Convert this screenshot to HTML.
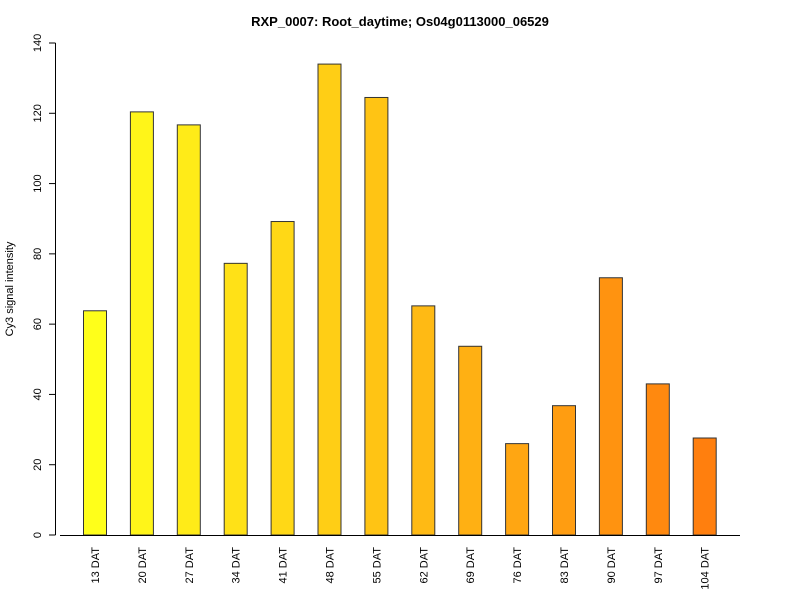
<!DOCTYPE html>
<html><head><meta charset="utf-8"><style>body{margin:0;background:#fff}svg{display:block;font-family:"Liberation Sans",Arial,sans-serif}</style></head>
<body>
<svg id="chart" width="800" height="600">
<text x="400" y="26" text-anchor="middle" font-weight="bold" font-size="13">RXP_0007: Root_daytime; Os04g0113000_06529</text>
<text transform="translate(13,289) rotate(-90)" text-anchor="middle" font-size="11">Cy3 signal intensity</text>
<g id="bars"></g><g id="axes"></g>
</svg>
<script>
const categories=["13 DAT","20 DAT","27 DAT","34 DAT","41 DAT","48 DAT","55 DAT","62 DAT","69 DAT","76 DAT","83 DAT","90 DAT","97 DAT","104 DAT"];
const values=[63.8,120.4,116.7,77.3,89.2,134,124.5,65.2,53.7,26,36.8,73.2,43,27.6];
const yTicks=[0,20,40,60,80,100,120,140];
const NS="http://www.w3.org/2000/svg";
const y0=535,y1=43,yMax=140;
const yScale=v=>y0-(v/yMax)*(y0-y1);
const xCenter=i=>95+i*46.9;
const bw=23;
const bars=document.getElementById('bars'),axes=document.getElementById('axes');
function mk(t,a,p){const e=document.createElementNS(NS,t);for(const k in a)e.setAttribute(k,a[k]);p.appendChild(e);return e;}
const n=categories.length;
values.forEach((v,i)=>{
 const g=Math.round(255-(255-127)*i/(n-1)), b=Math.round(26-(26-14)*i/(n-1));
 const r=mk('rect',{x:xCenter(i)-bw/2,y:yScale(v),width:bw,height:y0-yScale(v),fill:`rgb(255,${g},${b})`,stroke:'#333','stroke-width':1},bars);
 
 
 const t=mk('text',{transform:`translate(${xCenter(i)+4},547) rotate(-90)`,'text-anchor':'end','font-size':11},axes);
 t.textContent=categories[i];
 
 
});
const xa=mk('line',{x1:60,x2:740,y1:y0+0.5,y2:y0+0.5,stroke:'#000'},axes);


const ya=mk('line',{x1:55.5,x2:55.5,y1:yScale(yTicks[0]),y2:yScale(yTicks[yTicks.length-1]),stroke:'#000'},axes);


yTicks.forEach(v=>{
 mk('line',{x1:49,x2:55.5,y1:yScale(v),y2:yScale(v),stroke:'#000'},axes);
 const t=mk('text',{transform:`translate(41,${yScale(v)}) rotate(-90)`,'text-anchor':'middle','font-size':11},axes);
 t.textContent=v;
 
 
});
</script>
</body></html>
